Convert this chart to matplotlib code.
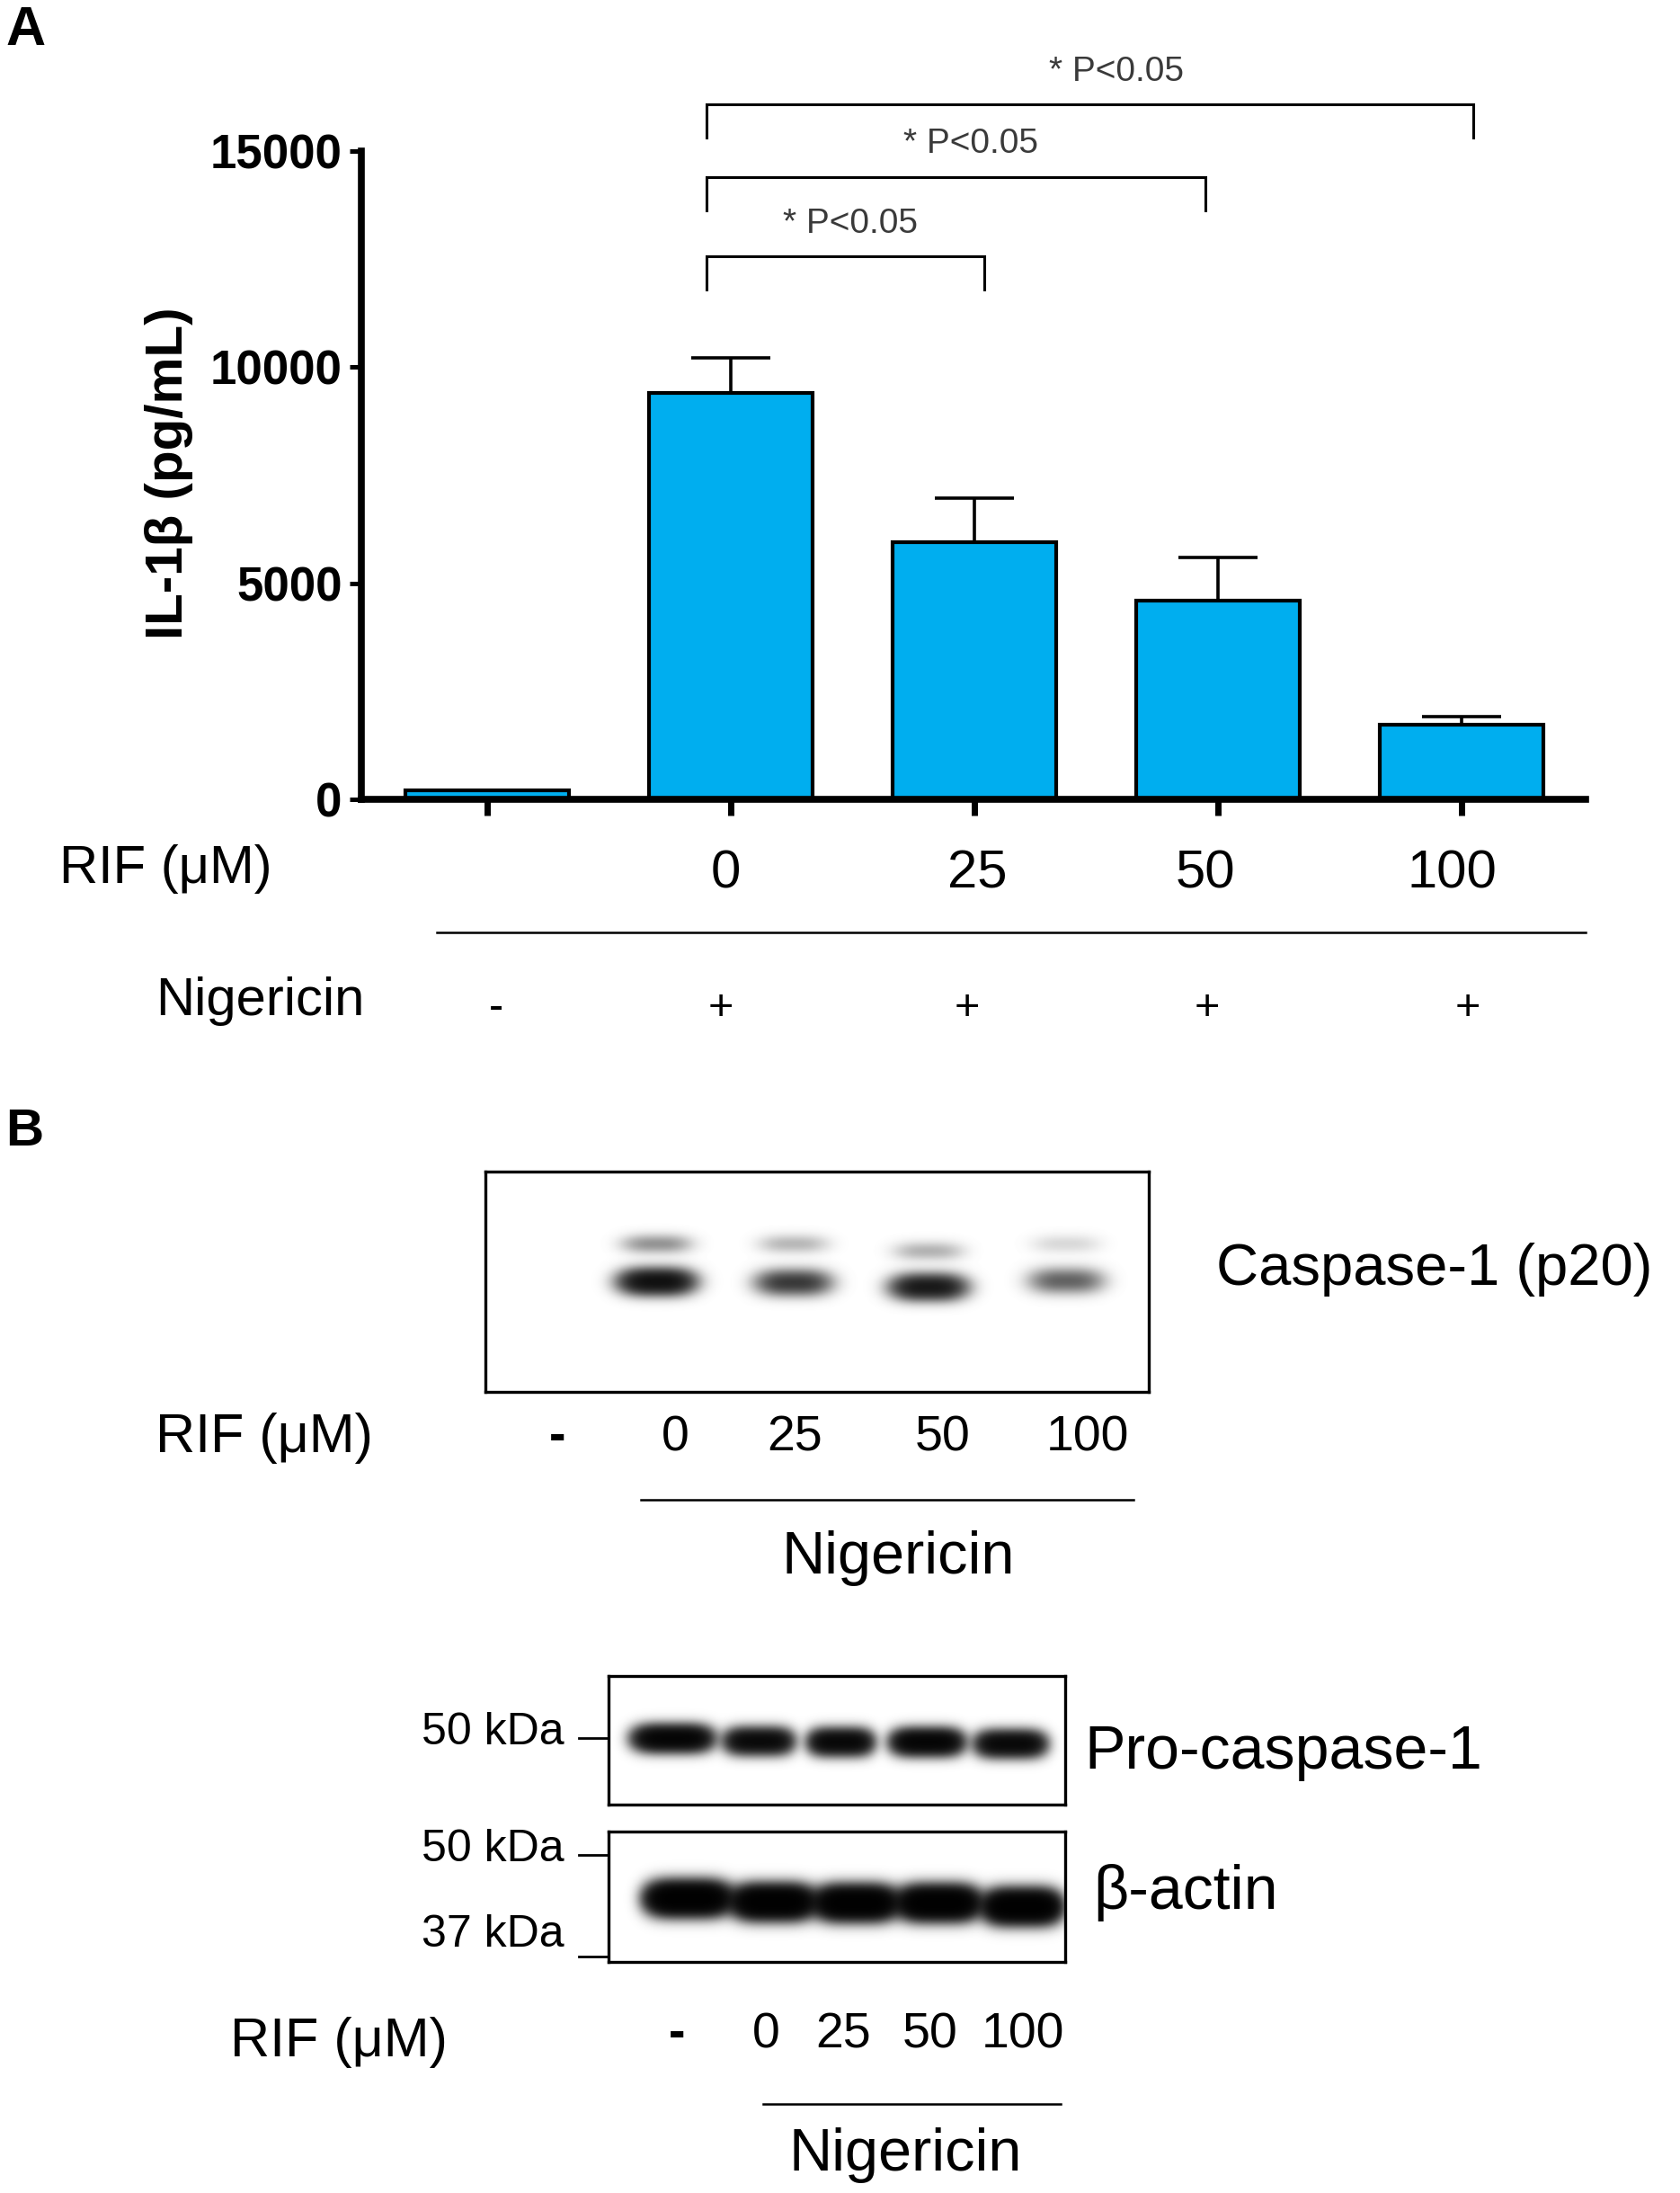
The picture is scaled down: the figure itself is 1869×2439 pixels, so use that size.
import numpy as np
import matplotlib
matplotlib.use("Agg")
import matplotlib.pyplot as plt

plt.rcParams['font.family'] = ['Liberation Sans', 'DejaVu Sans']

# ---------------- data ----------------
groups = ['-', '0', '25', '50', '100']
rif_labels = ['', '0', '25', '50', '100']
nigericin_signs = ['-', '+', '+', '+', '+']
il1b_mean = [200, 9400, 5960, 4600, 1730]
il1b_sem = [0, 810, 1000, 1000, 185]
yticks = [0, 5000, 10000, 15000]
comparisons = [(1, 2), (1, 3), (1, 4)]
p_labels = ['* P<0.05', '* P<0.05', '* P<0.05']

# western blot band intensities (lanes: -, 0, 25, 50, 100)
p20_lower = [0.0, 1.0, 0.55, 0.85, 0.35]
p20_upper = [0.0, 0.2, 0.12, 0.13, 0.06]
procasp = [1.0, 0.85, 0.9, 1.0, 0.88]
actin = [1.0, 1.0, 1.0, 1.0, 1.0]
wb_lane_labels = ['-', '0', '25', '50', '100']

# ---------------- figure ----------------
W, H = 1869, 2439
fig = plt.figure(figsize=(W / 100, H / 100), dpi=100)


def fx(x):
    return x / W


def fy(y):
    return 1 - y / H


# overlay axes in pixel coordinates for labels
ov = fig.add_axes([0, 0, 1, 1])
ov.set_xlim(0, W)
ov.set_ylim(H, 0)
ov.axis('off')

# ---------------- panel A ----------------
ax = fig.add_axes([fx(402), fy(889), fx(1764) - fx(402), fy(168) - fy(889)])
x = np.arange(len(groups))
ax.bar(x, il1b_mean, width=0.672, color='#00AEEF', edgecolor='black',
       linewidth=3, zorder=2)
err_lo = np.zeros(len(x) - 1)
ax.errorbar(x[1:], il1b_mean[1:], yerr=[err_lo, il1b_sem[1:]], fmt='none',
            ecolor='black', elinewidth=2.6, capsize=32, capthick=2.6, zorder=1)
ax.set_xlim(-0.517, 4.51)
ax.set_ylim(0, 15000)
for s in ['top', 'right']:
    ax.spines[s].set_visible(False)
for s in ['left', 'bottom']:
    ax.spines[s].set_linewidth(5.5)
    ax.spines[s].set_zorder(3)
ax.set_xticks(x)
ax.set_xticklabels([])
ax.set_yticks(yticks)
ax.set_yticklabels([str(v) for v in yticks], fontsize=38, fontweight='bold')
ax.tick_params(axis='x', length=13, width=5, direction='out')
ax.tick_params(axis='y', length=9.5, width=3.6, direction='out', pad=6)
ax.patch.set_alpha(0)

# significance brackets
bracket_y = [12560, 14400, 16080]
leg = 770
left_off = -0.10
right_off = [0.04, -0.05, 0.05]
text_off = [0.02, 0.06, 0.11]
for (a, b), lab, yb, ro, to in zip(comparisons, p_labels, bracket_y,
                                   right_off, text_off):
    xl, xr = a + left_off, b + ro
    ax.plot([xl, xl, xr, xr], [yb - leg, yb, yb, yb - leg], color='black',
            lw=2.2, clip_on=False, solid_joinstyle='miter', zorder=4)
    ax.text((xl + xr) / 2 + to, yb + 760, lab, ha='center', va='center',
            fontsize=28, color='#3a3a3a', clip_on=False)

ov.text(188, 526, 'IL-1β (pg/mL)', rotation=90, ha='center', va='center',
        fontsize=42, fontweight='bold')

# rows below panel A
ov.text(66, 966, 'RIF (μM)', ha='left', va='center', fontsize=43)
for xp, lab in zip([807, 1087, 1341, 1615], rif_labels[1:]):
    ov.text(xp, 972, lab, ha='center', va='center', fontsize=43)
ov.plot([486, 1764], [1037, 1037], color='black', lw=1.8)
ov.text(405, 1113, 'Nigericin', ha='right', va='center', fontsize=43)
for xp, lab in zip([552, 802, 1076, 1343, 1633], nigericin_signs):
    ov.text(xp, 1121, lab, ha='center', va='center', fontsize=35)

ov.text(6, 6, 'A', ha='left', va='top', fontsize=44, fontweight='bold')
ov.text(6, 1232, 'B', ha='left', va='top', fontsize=42, fontweight='bold')


# ---------------- panel B blots ----------------
def blot(left, top, w, h, bands, gain, power):
    bax = fig.add_axes([fx(left), fy(top + h), fx(left + w) - fx(left),
                        fy(top) - fy(top + h)])
    yy, xx = np.mgrid[0:h, 0:w].astype(float)
    dens = np.zeros((h, w))
    for inten, cx, cy, hw, hh in bands:
        dens += inten * np.exp(-np.abs((xx - cx) / hw) ** power) * \
            np.exp(-((yy - cy) / hh) ** 2)
    img = np.exp(-gain * dens)
    bax.imshow(img, cmap='gray', vmin=0, vmax=1, extent=[0, w, h, 0],
               aspect='auto', interpolation='bilinear')
    bax.set_xticks([])
    bax.set_yticks([])
    for s in bax.spines.values():
        s.set_linewidth(2.4)
    return bax


# caspase-1 p20
p20_cx = [110, 190, 342, 492, 645]
p20_cy_low = [122, 122, 123, 128, 121]
p20_cy_up = [80, 80, 80, 88, 80]
bands = []
for i in range(5):
    bands.append((p20_lower[i], p20_cx[i], p20_cy_low[i], 39, 13))
    bands.append((p20_upper[i], p20_cx[i], p20_cy_up[i], 37, 10))
blot(540, 1303, 738, 245, bands, gain=2.7, power=3)
ov.text(1353, 1412, 'Caspase-1 (p20)', ha='left', va='center', fontsize=47)

ov.text(173, 1599, 'RIF (μM)', ha='left', va='center', fontsize=44)
for xp, lab in zip([620, 751, 884, 1049, 1210], wb_lane_labels):
    ov.text(xp, 1599, lab, ha='center', va='center', fontsize=40,
            fontweight='bold' if lab == '-' else 'normal')
ov.plot([713, 1261], [1668, 1668], color='black', lw=1.8)
ov.text(999, 1733, 'Nigericin', ha='center', va='center', fontsize=48)

# pro-caspase-1
pro_cx = [71, 167, 258, 354, 447]
pro_cy = [69, 72, 73, 73, 75]
pro_hw = [42, 36, 34, 38, 37]
blot(677, 1864, 508, 143,
     [(procasp[i], pro_cx[i], pro_cy[i], pro_hw[i], 13) for i in range(5)],
     gain=3.8, power=4)
ov.text(1206, 1949, 'Pro-caspase-1', ha='left', va='center', fontsize=49)

# beta-actin
act_cx = [88, 183, 275, 367, 460]
act_cy = [74, 78, 79, 79, 83]
act_hw = [44, 42, 42, 42, 40]
blot(677, 2037, 508, 145,
     [(actin[i], act_cx[i], act_cy[i], act_hw[i], 16) for i in range(5)],
     gain=5.5, power=4)
ov.text(1216, 2105, 'β-actin', ha='left', va='center', fontsize=49)

# molecular weight markers
for yt, yl, lab in [(1933, 1927, '50 kDa'), (2063, 2057, '50 kDa'),
                    (2176, 2152, '37 kDa')]:
    ov.plot([644, 677], [yt, yt], color='black', lw=2)
    ov.text(628, yl, lab, ha='right', va='center', fontsize=36)

ov.text(256, 2271, 'RIF (μM)', ha='left', va='center', fontsize=44)
for xp, lab in zip([753, 852, 938, 1035, 1138], wb_lane_labels):
    ov.text(xp, 2263, lab, ha='center', va='center', fontsize=40,
            fontweight='bold' if lab == '-' else 'normal')
ov.plot([849, 1180], [2340, 2340], color='black', lw=1.8)
ov.text(1007, 2397, 'Nigericin', ha='center', va='center', fontsize=48)

fig.savefig('out.png', dpi=100, facecolor='white')
